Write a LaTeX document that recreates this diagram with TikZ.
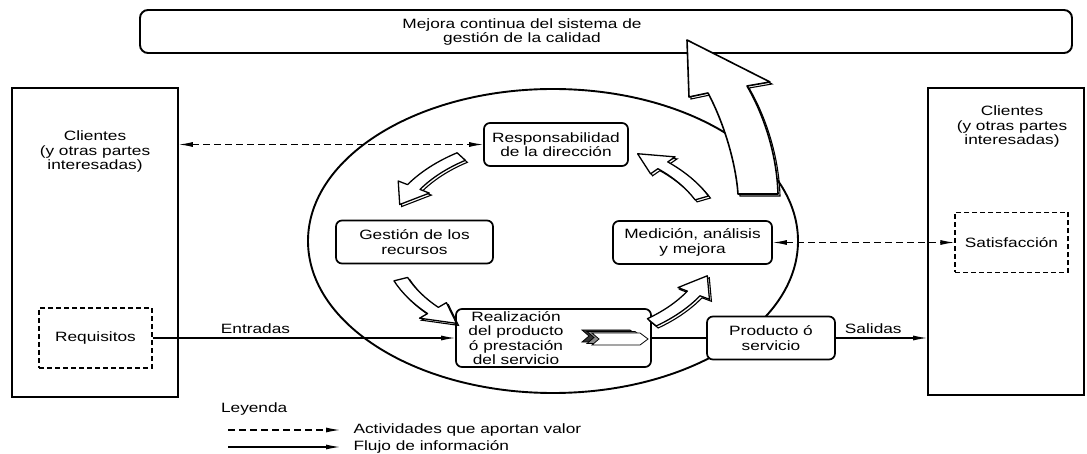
\documentclass[tikz,border=0pt]{standalone}
\usepackage{fontspec}
\setmainfont{Liberation Sans}[FakeStretch=1.28]
\usetikzlibrary{arrows.meta}
\tikzset{
  box/.style={draw, line width=1.7pt, fill=white, rounded corners=6pt},
  plainbox/.style={draw, line width=1.7pt, fill=white},
  dashbox/.style={draw, line width=1.2pt, dash pattern=on 5pt off 3pt, fill=white},
  flow/.style={line width=1.1pt},
  valueflow/.style={flow, dash pattern=on 7pt off 4pt},
  blockarrow/.style={draw, line width=1.3pt, fill=white, line join=round,
    preaction={draw, line width=1.1pt, transform canvas={xshift=2pt, yshift=-2pt}}},
}
\begin{document}
\begin{tikzpicture}[x=1pt, y=-1pt, >={Latex[length=14pt,width=5pt]},
  every node/.style={font=\fontsize{13.5pt}{14.5pt}\selectfont, align=center}]
\useasboundingbox (0,0) rectangle (1087,454);

\draw[line width=1.9pt] (553,241) ellipse[x radius=245, y radius=152];

\node[box, rounded corners=8pt, line width=1.9pt, minimum width=932, minimum height=43] (mejora) at (606,31.5) {};
\node (mejoratxt) at (522,32) {Mejora continua del sistema de\\gestión de la calidad};

\node[plainbox, minimum width=166, minimum height=309] (cliL) at (95,242.5) {};
\node (cliLtxt) at (95,152) {Clientes\\(y otras partes\\interesadas)};
\node[dashbox, minimum width=113, minimum height=60] (req) at (95.5,338) {Requisitos};

\node[plainbox, minimum width=156, minimum height=307] (cliR) at (1006,241.5) {};
\node (cliRtxt) at (1012,127) {Clientes\\(y otras partes\\interesadas)};
\node[dashbox, minimum width=113, minimum height=60] (sat) at (1011.5,242.5) {Satisfacción};

\node[box, minimum width=144, minimum height=43] (resp) at (556,144.5) {Responsabilidad\\de la dirección};
\node[box, minimum width=157, minimum height=43] (gest) at (414.5,242) {Gestión de los\\recursos};
\node[box, minimum width=159, minimum height=43] (med) at (692.5,242.5) {Medición, análisis\\y mejora};
\node[box, minimum width=195, minimum height=58] (real) at (553.5,338) {};
\node (realtxt) at (516,338) {Realización\\del producto\\ó prestación\\del servicio};
\node[box, minimum width=128, minimum height=43] (prod) at (771,338) {Producto ó\\servicio};

\draw[valueflow, <->] (resp.west -| cliL.east) -- (resp.west);
\draw[valueflow, <->] (med.east) -- (sat.west);
\draw[flow, ->] (req.east) -- (real.west) node[above, pos=0.34] (entradas) {Entradas};
\draw[flow] (real.east) -- (prod.west);
\draw[flow, ->] (prod.east) -- (prod.east -| cliR.west) node[above, pos=0.41] (salidas) {Salidas};

\foreach \dx/\dy/\shade in {0/-3/black!80, 5/-1.5/black!45, 10/0/white}
  \draw[line width=0.8pt, fill=\shade] ({582+\dx},{333+\dy}) -- ++(48,0) -- ++(8,6) -- ++(-8,6) -- ++(-48,0) -- ++(7,-6) -- cycle;

\begin{scope}[shift={(553,241)}]
\foreach \a/\b in {124/159, 202/234, 307/340, 25/59}{
  \pgfmathsetmacro\m{\b-11}
  \draw[blockarrow] (-\a:171.5 and 106.4) arc[start angle=-\a, end angle=-\m, x radius=171.5, y radius=106.4]
    -- (-\m:182.5 and 113.2) -- (-\b:164.2 and 101.8) -- (-\m:145.8 and 90.4)
    -- (-\m:156.8 and 97.3) arc[start angle=-\m, end angle=-\a, x radius=156.8, y radius=97.3] -- cycle;
}
\end{scope}

\draw[blockarrow, line width=1.6pt] (687,40) -- (770,82) -- (747,86) .. controls (764,115) and (777,155) .. (778,194)
  -- (738,194) .. controls (736,165) and (725,125) .. (708,93) -- (689,97) -- cycle;

\node[anchor=west] (leyenda) at (217.5,409) {Leyenda};
\coordinate (v0) at (228,430);
\coordinate (v1) at (340,430);
\coordinate (f0) at (228,447);
\coordinate (f1) at (340,447);
\draw[valueflow, ->] (v0) -- (v1);
\draw[flow, ->] (f0) -- (f1);
\node[anchor=west] (valor) at (350,430) {Actividades que aportan valor};
\node[anchor=west] (flujo) at (350,447) {Flujo de información};
\end{tikzpicture}
\end{document}
